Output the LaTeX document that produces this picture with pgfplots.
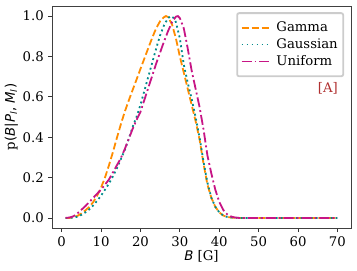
\documentclass[border=0pt]{standalone}
\usepackage{fontspec}
\setmainfont{DejaVu Serif}
\newfontfamily\dvs{DejaVu Sans}
\usepackage{pgfplots}
\pgfplotsset{compat=1.18}
\definecolor{cgamma}{HTML}{FF8C00}
\definecolor{cgauss}{HTML}{008B8B}
\definecolor{cunif}{HTML}{C71585}
\definecolor{clab}{HTML}{B03030}
\newcommand{\myfont}{\fontsize{13.3}{16}\selectfont}
\begin{document}
\begin{tikzpicture}[font=\myfont]
\begin{axis}[
  scale only axis, width=299bp, height=222bp,
  xmin=-2.45, xmax=73.45, ymin=-0.05, ymax=1.05,
  xtick={0,10,...,70}, ytick={0,0.2,...,1.0},
  yticklabel style={/pgf/number format/fixed, /pgf/number format/fixed zerofill, /pgf/number format/precision=1},
  /pgf/number format/assume math mode=true,
  tick align=outside, tick pos=left,
  major tick length=4bp,
  tick style={black!80, line width=0.8bp},
  axis line style={black!75, line width=0.8bp},
  ticklabel style={font=\myfont},
  label style={font=\myfont},
  every axis x label/.style={at={(axis description cs:0.5,-0.146)}, anchor=base},
  every axis y label/.style={at={(axis description cs:-0.124,0.5)}, rotate=90, anchor=base},
  xlabel={{\dvs\itshape B} [G]},
  ylabel={p{\dvs(\textit{B}|\textit{P}\textsubscript{\textit{l}}, \textit{M}\textsubscript{\textit{l}})}},
  legend style={at={(axis description cs:0.977,0.972)}, anchor=north east,
    draw=black!20, rounded corners=2bp, fill=white, inner xsep=3.5bp, inner ysep=7bp,
    row sep=1.5bp,
    /tikz/every odd column/.append style={column sep=5bp},
    font=\myfont},
  legend cell align=left,
  legend image code/.code={\draw[#1, line width=1.8bp] (0bp,0bp) -- (27bp,0bp);},
  line width=1.8bp,
]
\addplot[color=cgamma, dash pattern=on 7bp off 3bp, line cap=butt] coordinates {
(1,0) (2,0) (3,0.003) (4,0.01) (5,0.022) (6,0.037) (7,0.054) (8,0.078) (9,0.11) (10,0.15)
(11,0.20) (12,0.26) (13,0.325) (14,0.395) (15,0.462) (16,0.525) (17,0.58) (18,0.633) (19,0.685) (20,0.738)
(21,0.79) (22,0.842) (23,0.893) (24,0.94) (25,0.975) (26,0.995) (26.5,1.0) (27,0.995) (28,0.96) (29,0.89)
(30,0.80) (31,0.72) (32,0.64) (33,0.56) (34,0.48) (35,0.39) (36,0.27) (37,0.165) (38,0.10) (39,0.055)
(40,0.028) (41,0.012) (42,0.005) (43,0.002) (44,0.0005) (45,0) (50,0) (55,0) (60,0) (65,0) (70,0)};
\addlegendentry{Gamma}
\addplot[color=cgauss, dash pattern=on 1.9bp off 3.1bp, line cap=butt] coordinates {
(1,0) (2,0) (3,0.002) (4,0.006) (5,0.015) (6,0.027) (7,0.042) (8,0.062) (9,0.085) (10,0.11)
(11,0.14) (12,0.17) (13,0.205) (14,0.245) (15,0.29) (16,0.335) (17,0.39) (18,0.45) (19,0.50) (20,0.56)
(21,0.63) (22,0.70) (23,0.77) (24,0.84) (25,0.905) (26,0.955) (27,0.99) (27.7,1.0) (28.5,0.99) (29,0.97)
(30,0.89) (31,0.76) (32,0.67) (33,0.59) (34,0.50) (35,0.40) (36,0.28) (37,0.175) (38,0.10) (39,0.055)
(40,0.028) (41,0.012) (42,0.005) (43,0.002) (44,0.0005) (45,0) (50,0) (55,0) (60,0) (65,0) (70,0)};
\addlegendentry{Gaussian}
\addplot[color=cunif, dash pattern=on 10bp off 3bp on 1.9bp off 3bp, line cap=butt] coordinates {
(1,0) (2,0.002) (3,0.008) (4,0.022) (5,0.04) (6,0.058) (7,0.078) (8,0.099) (9,0.12) (10,0.14)
(11,0.165) (12,0.19) (13,0.225) (14,0.26) (15,0.295) (16,0.34) (17,0.39) (18,0.44) (19,0.485) (20,0.525)
(21,0.585) (22,0.645) (23,0.705) (24,0.765) (25,0.82) (26,0.875) (27,0.925) (28,0.97) (29,0.997) (29.5,1.0)
(30,0.99) (31,0.94) (32,0.84) (33,0.73) (34,0.64) (35,0.55) (36,0.44) (37,0.31) (38,0.22) (39,0.14)
(40,0.08) (41,0.04) (42,0.018) (43,0.007) (44,0.002) (45,0) (50,0) (55,0) (60,0) (65,0) (70,0)};
\addlegendentry{Uniform}
\node[anchor=east, text=clab, font=\myfont] at (axis description cs:0.97,0.63) {[A]};
\end{axis}
\pgfresetboundingbox
\path (-52bp,-43bp) rectangle (305bp,228bp);
\end{tikzpicture}
\end{document}
